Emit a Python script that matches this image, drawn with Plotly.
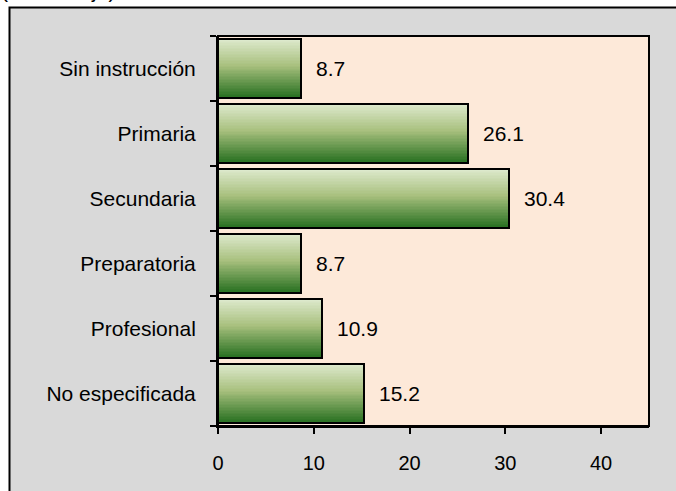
import plotly.graph_objects as go

# Data (top to bottom as shown in the chart)
categories = ["Sin instrucción", "Primaria", "Secundaria", "Preparatoria", "Profesional", "No especificada"]
values = [8.7, 26.1, 30.4, 8.7, 10.9, 15.2]
x_ticks = [0, 10, 20, 30, 40]
title_text = "(Porcentaje)"

# plot bottom-to-top order for the category axis
cats = categories[::-1]
vals = values[::-1]

FONT = "Liberation Sans, Arial, sans-serif"
W, H = 676, 491
L, R, T, B = 218, 27, 36, 65
PW, PH = W - L - R, H - T - B

def px_to_paper_x(px):
    return (px - L) / PW

def px_to_paper_y(py):
    return (H - B - py) / PH

def lerp(c1, c2, t):
    return tuple(int(round(a + (b - a) * t)) for a, b in zip(c1, c2))

# gradient stops from bottom (t=0) to top (t=1)
stops = [(0.0, (36, 110, 30)), (0.55, (168, 192, 126)), (1.0, (222, 234, 206))]

def grad(t):
    for (t0, c0), (t1, c1) in zip(stops[:-1], stops[1:]):
        if t <= t1:
            return lerp(c0, c1, (t - t0) / (t1 - t0))
    return stops[-1][1]

bar_w = 0.91
N = 40
h = bar_w / N

fig = go.Figure()
for i in range(N):
    t = (i + 0.5) / N
    c = grad(t)
    width = h * 1.8 if i < N - 1 else h
    fig.add_trace(go.Bar(
        y=cats, x=vals, orientation="h",
        width=width, offset=-bar_w / 2 + i * h,
        marker=dict(color="rgb(%d,%d,%d)" % c, line=dict(width=0)),
        hoverinfo="skip", showlegend=False,
    ))

# outline
fig.add_trace(go.Bar(
    y=cats, x=vals, orientation="h", width=bar_w,
    marker=dict(color="rgba(0,0,0,0)", line=dict(color="black", width=2)),
    showlegend=False, hoverinfo="skip",
))

annotations = []
for c, v in zip(cats, vals):
    annotations.append(dict(
        x=v, y=c, xref="x", yref="y", text=f"{v:.1f}", showarrow=False,
        xanchor="left", xshift=13, font=dict(family=FONT, size=21, color="black"),
    ))
annotations.append(dict(
    x=px_to_paper_x(-1), y=px_to_paper_y(4), xref="paper", yref="paper",
    text=title_text, showarrow=False, xanchor="left", yanchor="bottom",
    font=dict(family=FONT, size=21, color="black"),
))

shapes = [
    dict(type="rect", xref="paper", yref="paper", layer="below",
         x0=px_to_paper_x(9.5), x1=px_to_paper_x(690), y0=px_to_paper_y(510), y1=px_to_paper_y(7.5),
         fillcolor="#D9D9D9", line=dict(color="black", width=2)),
    dict(type="rect", xref="paper", yref="paper", layer="below",
         x0=0, x1=1, y0=0, y1=1, fillcolor="#FDE9D9", line=dict(color="black", width=2)),
]

fig.update_layout(
    width=W, height=H,
    margin=dict(l=L, r=R, t=T, b=B, pad=0),
    paper_bgcolor="white", plot_bgcolor="rgba(0,0,0,0)",
    barmode="overlay", bargap=0,
    annotations=annotations, shapes=shapes,
    font=dict(family=FONT, size=20, color="black"),
    template="none",
)
fig.update_xaxes(
    range=[0, 45], tickvals=x_ticks, ticks="outside", ticklen=6, tickwidth=2,
    tickcolor="black", showline=True, linewidth=2, linecolor="black",
    showgrid=False, zeroline=False, ticklabelstandoff=12, automargin=False,
    tickfont=dict(family=FONT, size=20),
)
fig.update_yaxes(
    type="category", categoryorder="array", categoryarray=cats, range=[-0.5, len(cats) - 0.5],
    tickson="boundaries", ticks="outside", ticklen=6, tickwidth=2, tickcolor="black",
    showline=True, linewidth=2, linecolor="black", showgrid=False, zeroline=False,
    ticklabelstandoff=16, automargin=False, tickfont=dict(family=FONT, size=21),
)

fig.write_html("out.html", config={"displayModeBar": False},
               post_script="document.body.style.margin='0px';")
